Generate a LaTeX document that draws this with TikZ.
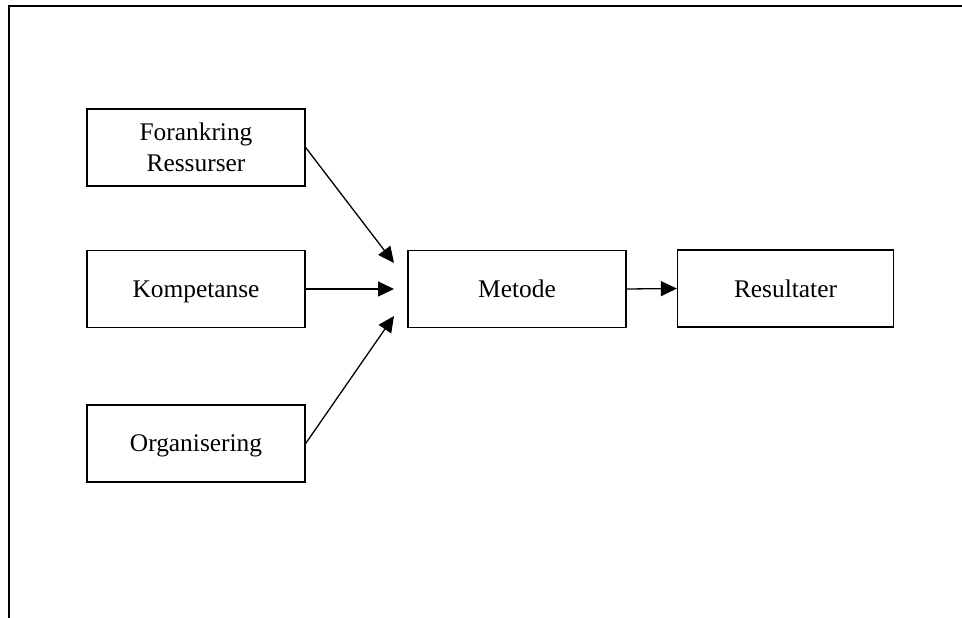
\documentclass[tikz,border=0pt]{standalone}
\usepackage{fontspec}
\setmainfont{Liberation Serif}
\usetikzlibrary{arrows.meta}
\tikzset{
  box/.style={draw=black, line width=1.3pt, minimum width=218pt, minimum height=77pt, inner sep=0pt, align=center, text depth=0pt, font=\fontsize{25.4}{31}\selectfont},
  conn/.style={draw=black, line width=1.3pt, -{Triangle[length=16pt,width=15pt]}},
  frame/.style={draw=black, line width=2pt}
}
\begin{document}
\begin{tikzpicture}[x=1pt,y=-1pt]
\useasboundingbox (0,0) rectangle (962,618);
\draw[frame] (962,6) -- (9,6) -- (9,618);
\node[box] (f) at (196,147.5) {Forankring\\Ressurser};
\node[box] (k) at (196,289) {Kompetanse};
\node[box] (o) at (196,443.5) {Organisering};
\node[box] (m) at (517,289) {Metode};
\node[box, minimum width=216pt] (r) at (785.5,288.5) {Resultater};
\coordinate (t1) at (394,263);
\coordinate (t2) at (394,289);
\coordinate (t3) at (394,316);
\draw[conn] (f.east) -- (t1);
\draw[conn] (k.east) -- (t2);
\draw[conn] (o.east) -- (t3);
\draw[conn] (m.east) -- (r.west);
\end{tikzpicture}
\end{document}
